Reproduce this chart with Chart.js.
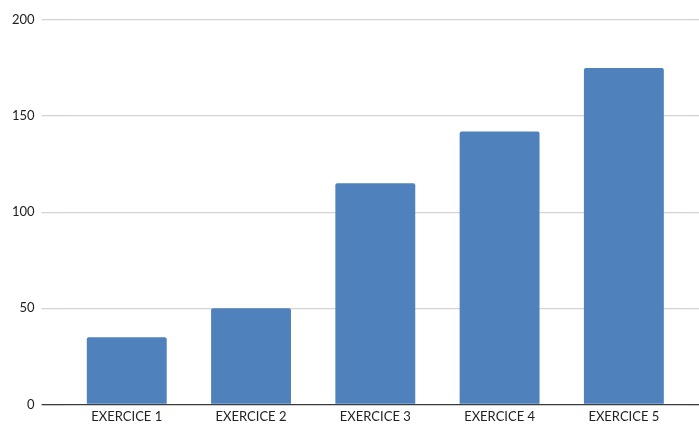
<!DOCTYPE html>
<html>
<head>
<meta charset="utf-8">
<script src="https://cdn.jsdelivr.net/npm/chart.js@4/dist/chart.umd.min.js"></script>
<style>
    html, body { margin: 0; padding: 0; background: #fff; }
    #wrap { width: 699px; height: 428px; }
</style>
</head>
<body>
<div id="wrap"><canvas id="chart"></canvas></div>
<script>
// données
const categories = ['EXERCICE 1', 'EXERCICE 2', 'EXERCICE 3', 'EXERCICE 4', 'EXERCICE 5'];
const values = [35, 50, 115, 142, 175];
const yTicks = [0, 50, 100, 150, 200];

const gridColor = ctx => ctx.tick && ctx.tick.value === 0 ? '#3a3a3a' : '#d4d4d4';

new Chart(document.getElementById('chart'), {
    type: 'bar',
    data: {
        labels: categories,
        datasets: [{
            data: values,
            backgroundColor: '#4f81bd',
            borderRadius: 2,
            borderSkipped: 'bottom',
            categoryPercentage: 1,
            barPercentage: 0.643
        }]
    },
    options: {
        responsive: true,
        maintainAspectRatio: false,
        animation: false,
        layout: { padding: { top: 20, left: 5, right: 0, bottom: -2 } },
        plugins: { legend: { display: false }, tooltip: { enabled: false } },
        scales: {
            x: {
                grid: { display: false, drawTicks: false },
                border: { display: false },
                ticks: { color: '#222', font: { family: 'Lato', size: 13 }, padding: 5 }
            },
            y: {
                min: yTicks[0],
                max: yTicks[yTicks.length - 1],
                afterBuildTicks: axis => { axis.ticks = yTicks.map(v => ({ value: v })); },
                grid: { color: gridColor, lineWidth: 1.3, tickLength: 23 },
                border: { display: false },
                ticks: { color: '#222', font: { family: 'Lato', size: 13 }, padding: 7 }
            },
            yRight: {
                position: 'right',
                min: yTicks[0],
                max: yTicks[yTicks.length - 1],
                afterBuildTicks: axis => { axis.ticks = yTicks.map(v => ({ value: v })); },
                grid: { color: gridColor, lineWidth: 1.3, tickLength: 13, drawOnChartArea: false },
                border: { display: false },
                ticks: { display: false }
            }
        }
    }
});
</script>
</body>
</html>
